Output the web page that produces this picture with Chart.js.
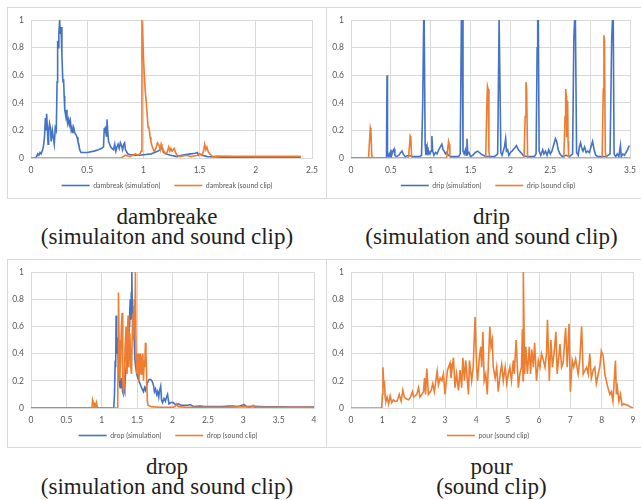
<!DOCTYPE html>
<html>
<head>
<meta charset="utf-8">
<script src="https://cdn.jsdelivr.net/npm/chart.js@4.4.1/dist/chart.umd.min.js"></script>
<style>
  html, body { margin: 0; padding: 0; background: #fff; overflow: hidden; }
  body { width: 641px; height: 500px; position: relative; }
  .box { position: absolute; box-sizing: border-box; border: 1px solid #d9d9d9; background: #fff; }
  .cap { position: absolute; text-align: center; font-family: "Liberation Serif", serif; font-size: 23px; line-height: 20px; color: #231f20; }
</style>
</head>
<body>
<div class="box" style="left:7px;top:7px;width:320px;height:192px"><canvas id="cDambreak"></canvas></div>
<div class="box" style="left:327px;top:7px;width:330px;height:192px;border-left:none"><canvas id="cDrip"></canvas></div>
<div class="box" style="left:7px;top:259px;width:320px;height:189px"><canvas id="cDrop"></canvas></div>
<div class="box" style="left:327px;top:259px;width:330px;height:189px;border-left:none"><canvas id="cPour"></canvas></div>

<div class="cap" style="left:7px;top:207px;width:320px">dambreake<br>(simulaiton and sound clip)</div>
<div class="cap" style="left:327px;top:207px;width:329px">drip<br>(simulation and sound clip)</div>
<div class="cap" style="left:7px;top:457px;width:320px">drop<br>(simulation and sound clip)</div>
<div class="cap" style="left:327px;top:457px;width:329px">pour<br>(sound clip)</div>

<script>
// Farben wie in Excel
const blue = '#4472c4';
const orange = '#ed7d31';

// [zeit, wert] Paare
const dambreakSim = [[0,0],[0.04,0],[0.05,0.01],[0.06,0.03],[0.07,0.02],[0.08,0.04],[0.09,0.03],[0.1,0.05],[0.11,0.08],[0.12,0.15],
  [0.128,0.29],[0.133,0.2],[0.139,0.32],[0.145,0.22],[0.152,0.1],[0.157,0.2],[0.165,0.25],[0.172,0.22],[0.18,0.12],[0.19,0.2],
  [0.2,0.14],[0.207,0.1],[0.216,0.22],[0.225,0.2],[0.232,0.55],[0.237,0.85],[0.242,0.8],[0.248,0.9],[0.255,1.0],[0.26,0.9],
  [0.267,0.95],[0.275,0.75],[0.282,0.58],[0.286,0.55],[0.29,0.57],[0.295,0.45],[0.3,0.35],[0.31,0.3],[0.315,0.35],[0.32,0.3],
  [0.327,0.25],[0.335,0.28],[0.342,0.24],[0.35,0.27],[0.358,0.2],[0.365,0.22],[0.372,0.18],[0.38,0.22],[0.39,0.18],[0.4,0.17],
  [0.41,0.15],[0.418,0.12],[0.425,0.1],[0.433,0.06],[0.445,0.04],[0.46,0.04],[0.5,0.04],[0.56,0.05],[0.6,0.06],[0.63,0.07],
  [0.645,0.08],[0.652,0.22],[0.658,0.18],[0.664,0.23],[0.67,0.16],[0.676,0.28],[0.682,0.2],[0.69,0.12],[0.7,0.1],[0.71,0.08],
  [0.72,0.07],[0.735,0.06],[0.745,0.1],[0.755,0.05],[0.765,0.08],[0.775,0.1],[0.785,0.07],[0.795,0.11],[0.805,0.09],[0.815,0.06],
  [0.825,0.1],[0.833,0.11],[0.84,0.06],[0.848,0.05],[0.86,0.03],[0.88,0.025],[0.92,0.02],[0.97,0.02],[1.02,0.025],[1.07,0.03],
  [1.1,0.04],[1.13,0.05],[1.15,0.06],[1.16,0.08],[1.17,0.06],[1.18,0.04],[1.2,0.03],[1.24,0.02],[1.3,0.01],[1.34,0.02],
  [1.38,0.025],[1.42,0.03],[1.46,0.035],[1.48,0.04],[1.49,0.02],[1.5,0.03],[1.52,0.02],[1.57,0.01],[1.65,0.008],[1.72,0.005],
  [1.8,0.005],[2.0,0.005],[2.2,0.005],[2.4,0.005]];

const dambreakClip = [[0,0],[0.8,0],[0.82,0.01],[0.84,0.02],[0.86,0.015],[0.88,0.01],[0.9,0.02],[0.93,0.03],[0.95,0.02],[0.97,0.03],
  [0.98,0.05],[0.987,1.0],[0.995,0.85],[1.005,0.65],[1.015,0.5],[1.026,0.4],[1.035,0.3],[1.042,0.22],[1.047,0.23],[1.053,0.2],
  [1.06,0.15],[1.067,0.12],[1.075,0.09],[1.085,0.07],[1.095,0.05],[1.105,0.06],[1.115,0.08],[1.125,0.11],[1.133,0.1],[1.14,0.09],
  [1.15,0.06],[1.158,0.1],[1.165,0.08],[1.172,0.07],[1.18,0.05],[1.19,0.04],[1.2,0.03],[1.21,0.04],[1.225,0.08],[1.235,0.05],
  [1.245,0.07],[1.255,0.05],[1.265,0.06],[1.275,0.07],[1.285,0.04],[1.3,0.02],[1.32,0.01],[1.35,0.015],[1.39,0.02],[1.42,0.01],
  [1.45,0.015],[1.48,0.02],[1.5,0.03],[1.52,0.02],[1.535,0.05],[1.545,0.1],[1.555,0.06],[1.565,0.08],[1.575,0.05],[1.59,0.03],
  [1.61,0.015],[1.625,0.01],[1.65,0.015],[1.8,0.013],[2.0,0.012],[2.2,0.012],[2.4,0.012]];

const dripSim = [[0,0],[0.44,0],[0.445,0.02],[0.452,0.6],[0.458,0.02],[0.47,0.01],[0.48,0.03],[0.49,0.01],[0.5,0.06],[0.51,0.02],
  [0.525,0.05],[0.54,0.065],[0.55,0.02],[0.57,0.01],[0.6,0.02],[0.625,0.04],[0.64,0.05],[0.655,0.03],[0.68,0.01],[0.72,0.02],
  [0.75,0.015],[0.78,0.01],[0.82,0.01],[0.86,0.01],[0.885,0.02],[0.9,0.4],[0.912,1.0],[0.918,1.0],[0.93,0.1],[0.94,0.02],
  [0.955,0.08],[0.965,0.02],[0.975,0.05],[0.99,0.03],[1.005,0.05],[1.015,0.16],[1.025,0.05],[1.04,0.02],[1.06,0.04],[1.08,0.03],
  [1.1,0.06],[1.12,0.08],[1.14,0.1],[1.155,0.06],[1.17,0.05],[1.185,0.03],[1.2,0.04],[1.22,0.02],[1.25,0.01],[1.3,0.01],
  [1.35,0.01],[1.37,0.03],[1.385,1.0],[1.395,1.0],[1.405,0.05],[1.42,0.03],[1.435,0.06],[1.445,0.02],[1.455,0.14],[1.465,0.03],
  [1.48,0.04],[1.5,0.01],[1.53,0.02],[1.56,0.04],[1.59,0.05],[1.61,0.04],[1.63,0.03],[1.66,0.02],[1.7,0.01],[1.75,0.01],
  [1.8,0.01],[1.84,0.03],[1.858,1.0],[1.868,1.0],[1.88,0.04],[1.895,0.02],[1.91,0.05],[1.925,0.08],[1.94,0.14],[1.95,0.05],
  [1.965,0.06],[1.98,0.02],[2.0,0.04],[2.02,0.05],[2.05,0.07],[2.075,0.09],[2.1,0.06],[2.13,0.04],[2.16,0.02],[2.2,0.01],
  [2.25,0.01],[2.3,0.01],[2.322,0.03],[2.335,0.8],[2.342,1.0],[2.35,1.0],[2.36,0.05],[2.38,0.02],[2.405,0.06],[2.42,0.03],
  [2.44,0.05],[2.46,0.02],[2.48,0.06],[2.5,0.03],[2.52,0.05],[2.545,0.1],[2.565,0.14],[2.58,0.12],[2.6,0.06],[2.62,0.03],
  [2.65,0.01],[2.7,0.02],[2.74,0.01],[2.78,0.03],[2.795,0.85],[2.805,1.0],[2.815,1.0],[2.83,0.04],[2.85,0.02],[2.865,0.08],
  [2.88,0.11],[2.895,0.07],[2.91,0.05],[2.93,0.08],[2.95,0.04],[2.97,0.05],[2.99,0.04],[3.01,0.08],[3.03,0.12],[3.05,0.06],
  [3.07,0.02],[3.1,0.01],[3.15,0.01],[3.2,0.01],[3.25,0.03],[3.27,0.85],[3.28,1.0],[3.29,1.0],[3.3,0.03],[3.32,0.01],
  [3.34,0.03],[3.36,0.01],[3.38,0.09],[3.39,0.01],[3.41,0.03],[3.43,0.02],[3.45,0.04],[3.47,0.06],[3.49,0.09]];

const dripClip = [[0,0],[0.22,0],[0.235,0.15],[0.242,0.22],[0.25,0.2],[0.26,0.02],[0.27,0],[0.72,0],[0.735,0.1],[0.742,0.16],
  [0.75,0.15],[0.76,0.01],[0.77,0],[1.2,0],[1.215,0.08],[1.224,0.12],[1.232,0.1],[1.24,0.01],[1.25,0],[1.69,0],
  [1.705,0.4],[1.712,0.52],[1.72,0.5],[1.73,0.05],[1.74,0],[2.17,0],[2.185,0.3],[2.195,0.55],[2.203,0.5],[2.215,0.02],
  [2.225,0],[2.67,0],[2.685,0.3],[2.693,0.5],[2.7,0.45],[2.705,0.15],[2.712,0.41],[2.718,0.4],[2.723,0.12],[2.73,0.02],
  [2.74,0],[3.15,0],[3.165,0.5],[3.173,0.89],[3.18,0.85],[3.19,0.05],[3.2,0],[3.5,0]];

const dropSim = [[0,0],[1.17,0],[1.18,0.1],[1.19,0.35],[1.197,0.3],[1.203,0.68],[1.21,0.4],[1.217,0.45],[1.227,0.52],[1.235,0.3],
  [1.245,0.2],[1.255,0.18],[1.265,0.2],[1.275,0.15],[1.283,0.22],[1.295,0.12],[1.307,0.1],[1.317,0.15],[1.325,0.13],[1.335,0.25],
  [1.344,0.3],[1.352,0.25],[1.36,0.35],[1.368,0.45],[1.378,0.5],[1.388,0.6],[1.395,0.7],[1.403,0.8],[1.41,0.65],[1.418,0.85],
  [1.425,1.0],[1.432,0.75],[1.44,0.5],[1.448,0.55],[1.455,0.62],[1.462,0.45],[1.47,0.35],[1.48,0.3],[1.495,0.25],[1.51,0.22],
  [1.525,0.2],[1.54,0.18],[1.555,0.16],[1.57,0.14],[1.59,0.12],[1.605,0.15],[1.62,0.13],[1.635,0.17],[1.65,0.19],[1.67,0.21],
  [1.69,0.21],[1.71,0.2],[1.73,0.17],[1.745,0.12],[1.76,0.14],[1.777,0.1],[1.79,0.12],[1.805,0.08],[1.815,0.12],[1.833,0.16],
  [1.845,0.06],[1.86,0.04],[1.88,0.07],[1.9,0.05],[1.915,0.08],[1.93,0.1],[1.95,0.03],[1.98,0.04],[2.01,0.04],[2.04,0.025],
  [2.08,0.03],[2.12,0.02],[2.17,0.02],[2.22,0.02],[2.25,0.025],[2.3,0.01],[2.39,0.015],[2.45,0.01],[2.6,0.01],[2.7,0.01],
  [2.8,0.015],[2.86,0.015],[2.9,0.01],[2.95,0.015],[3.01,0.025],[3.05,0.01],[3.15,0.012],[3.3,0.008],[3.5,0.008],[3.7,0.007],
  [3.9,0.007],[4.0,0.007]];

const dropClip = [[0,0],[0.86,0],[0.87,0.06],[0.88,0.04],[0.89,0.02],[0.9,0.03],[0.91,0.01],[0.925,0.04],[0.935,0.01],[0.95,0],
  [1.225,0],[1.23,0.3],[1.236,0.85],[1.245,0.5],[1.255,0.2],[1.265,0.35],[1.278,0.6],[1.288,0.7],[1.297,0.2],[1.307,0.12],
  [1.318,0.15],[1.33,0.45],[1.344,0.6],[1.352,0.25],[1.362,0.5],[1.372,0.68],[1.382,0.3],[1.39,0.45],[1.398,0.55],[1.41,0.3],
  [1.42,0.25],[1.43,0.5],[1.442,0.7],[1.452,0.5],[1.46,0.8],[1.468,0.6],[1.476,1.0],[1.485,0.4],[1.495,0.25],[1.505,0.35],
  [1.515,0.4],[1.525,0.2],[1.535,0.3],[1.545,0.4],[1.555,0.25],[1.565,0.35],[1.58,0.4],[1.59,0.2],[1.6,0.35],[1.608,0.3],
  [1.617,0.48],[1.625,0.4],[1.636,0.2],[1.645,0.05],[1.655,0.02],[1.7,0.01],[1.8,0.005],[1.9,0.005],[2.0,0.005],[2.04,0.01],
  [2.06,0.03],[2.08,0.01],[2.2,0.005],[2.5,0.005],[2.8,0.005],[3.02,0.01],[3.1,0.005],[3.14,0.02],[3.16,0.005],[3.5,0.005],
  [4.0,0.005]];

const pourClip = [[0,0],[0.98,0],[1.0,0.1],[1.02,0.3],[1.05,0.15],[1.065,0.2],[1.09,0.08],[1.115,0.05],[1.15,0.08],[1.2,0.03],
  [1.25,0.09],[1.3,0.04],[1.35,0.06],[1.4,0.05],[1.465,0.05],[1.5,0.07],[1.54,0.1],[1.6,0.05],[1.656,0.13],[1.7,0.08],
  [1.75,0.07],[1.84,0.06],[1.9,0.08],[1.96,0.12],[2.0,0.08],[2.1,0.1],[2.155,0.15],[2.2,0.08],[2.26,0.1],[2.314,0.12],
  [2.346,0.22],[2.38,0.1],[2.42,0.29],[2.47,0.1],[2.56,0.13],[2.61,0.18],[2.66,0.12],[2.75,0.27],[2.79,0.17],[2.845,0.22],
  [2.9,0.2],[2.95,0.25],[3.0,0.1],[3.08,0.28],[3.16,0.33],[3.19,0.22],[3.27,0.37],[3.32,0.15],[3.37,0.25],[3.43,0.13],
  [3.48,0.28],[3.53,0.15],[3.57,0.37],[3.62,0.2],[3.66,0.35],[3.75,0.1],[3.78,0.35],[3.85,0.2],[3.9,0.3],[3.96,0.67],
  [4.01,0.3],[4.04,0.2],[4.1,0.38],[4.14,0.45],[4.17,0.3],[4.21,0.56],[4.25,0.2],[4.3,0.25],[4.35,0.1],[4.38,0.3],
  [4.43,0.6],[4.47,0.45],[4.51,0.5],[4.54,0.3],[4.6,0.22],[4.65,0.3],[4.7,0.12],[4.76,0.25],[4.81,0.32],[4.86,0.2],
  [4.92,0.3],[4.97,0.18],[5.02,0.25],[5.07,0.3],[5.12,0.2],[5.18,0.35],[5.21,0.25],[5.27,0.5],[5.34,0.15],[5.39,0.25],
  [5.44,0.3],[5.47,0.58],[5.49,0.2],[5.5,1.0],[5.54,0.25],[5.58,0.45],[5.63,0.25],[5.69,0.45],[5.73,0.25],[5.77,0.43],
  [5.82,0.3],[5.86,0.48],[5.92,0.2],[5.98,0.35],[6.03,0.3],[6.08,0.4],[6.14,0.35],[6.19,0.3],[6.24,0.4],[6.27,0.65],
  [6.33,0.2],[6.38,0.5],[6.43,0.3],[6.48,0.4],[6.54,0.56],[6.58,0.25],[6.67,0.47],[6.72,0.3],[6.77,0.33],[6.85,0.59],
  [6.9,0.3],[6.96,0.62],[7.0,0.12],[7.06,0.35],[7.11,0.3],[7.17,0.36],[7.25,0.25],[7.3,0.35],[7.36,0.6],[7.41,0.25],
  [7.52,0.3],[7.57,0.25],[7.62,0.4],[7.67,0.22],[7.73,0.28],[7.78,0.3],[7.83,0.18],[7.89,0.25],[7.94,0.3],[7.99,0.42],
  [8.05,0.38],[8.1,0.25],[8.15,0.2],[8.2,0.15],[8.26,0.1],[8.31,0.12],[8.36,0.05],[8.44,0.35],[8.47,0.1],[8.5,0.15],
  [8.55,0.05],[8.6,0.1],[8.65,0.02],[8.7,0.03],[8.83,0.02],[8.94,0.005],[9.0,0]];

const tickFont = { family: 'Lato', size: 8.5 };
const legendFont = { family: 'Lato', size: 7 };
const grey = '#d9d9d9';
const textGrey = '#595959';

// "1" statt "1.0", "0.5" bleibt
const tickText = v => String(Math.round(v * 10) / 10);

// Beschriftungen dürfen über die (schmalen) Achsen hinausragen
const labelRoom = {
    id: 'labelRoom',
    beforeDraw(chart) {
        const x = chart.scales.x;
        x.bottom = x.top + 20;
        chart.scales.y.left = 0;
    }
};

function series(label, points, color, order) {
    return {
        label: label,
        data: points.map(p => ({ x: p[0], y: p[1] })),
        borderColor: color,
        backgroundColor: color,
        borderWidth: 1.6,
        pointRadius: 0,
        tension: 0,
        order: order
    };
}

// ein Diagramm; pad = Abstand der Plotfläche zum Canvas-Rand
function makeChart(id, datasets, xMax, xStep, pad) {
    return new Chart(document.getElementById(id), {
        type: 'line',
        data: { datasets: datasets },
        plugins: [labelRoom],
        options: {
            responsive: true,
            maintainAspectRatio: false,
            animation: false,
            layout: { padding: { left: pad.shift, right: pad.right, top: pad.top, bottom: 0 } },
            scales: {
                x: {
                    type: 'linear', min: 0, max: xMax,
                    ticks: { stepSize: xStep, padding: 7, color: textGrey, font: tickFont, callback: tickText },
                    grid: { color: grey, drawTicks: false },
                    border: { color: grey },
                    afterFit: s => { s.height = 10; }
                },
                y: {
                    min: 0, max: 1,
                    ticks: { stepSize: 0.2, padding: 7, color: textGrey, font: tickFont, callback: tickText },
                    grid: { color: grey, drawTicks: false },
                    border: { color: grey },
                    afterFit: s => { s.width = pad.left - pad.shift; }
                }
            },
            plugins: {
                legend: {
                    position: 'bottom',
                    maxHeight: pad.legend,
                    labels: {
                        usePointStyle: true, pointStyle: 'line', pointStyleWidth: 28,
                        padding: 14, color: textGrey, font: legendFont,
                        sort: (a, b) => a.datasetIndex - b.datasetIndex
                    }
                },
                tooltip: { enabled: false }
            }
        }
    });
}

makeChart('cDambreak', [
    series('dambreak (simulation)', dambreakSim, blue, 1),
    series('dambreak (sound clip)', dambreakClip, orange, 0)
], 2.5, 0.5, { left: 23, shift: 14, right: 14, top: 9, legend: 30 });

makeChart('cDrip', [
    series('drip (simulation)', dripSim, blue, 1),
    series('drip (sound clip)', dripClip, orange, 0)
], 3.5, 0.5, { left: 24, shift: 19, right: 26, top: 9, legend: 30 });

makeChart('cDrop', [
    series('drop (simulation)', dropSim, blue, 1),
    series('drop (sound clip)', dropClip, orange, 0)
], 4, 0.5, { left: 23, shift: 14, right: 12, top: 7, legend: 29 });

makeChart('cPour', [
    series('pour (sound clip)', pourClip, orange, 0)
], 9, 1, { left: 24, shift: 16, right: 23, top: 7, legend: 29 });
</script>
</body>
</html>
